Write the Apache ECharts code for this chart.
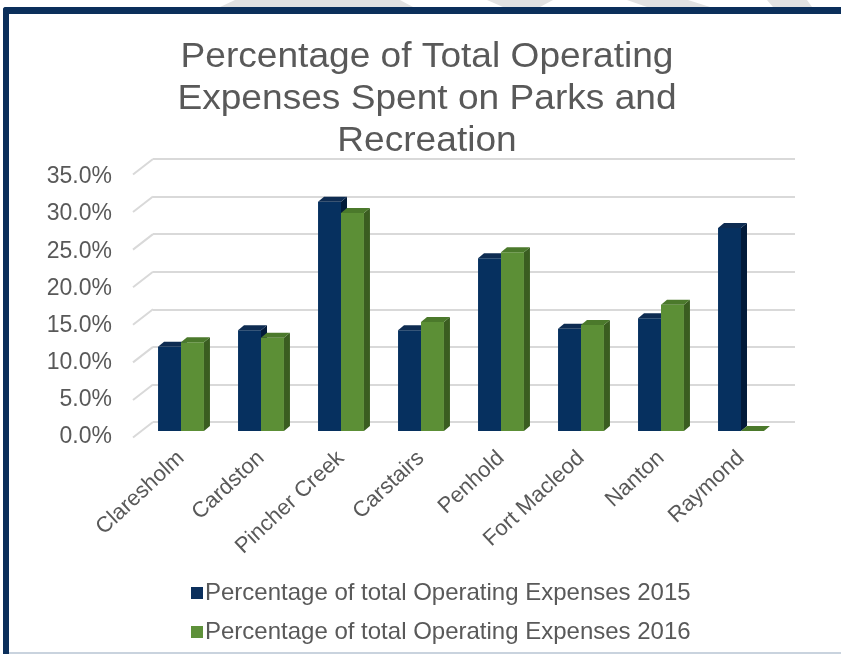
<!DOCTYPE html>
<html>
<head>
<meta charset="utf-8">
<script src="https://cdn.jsdelivr.net/npm/echarts@6/dist/echarts.min.js"></script>
<style>
  html, body { margin: 0; padding: 0; background: #ffffff; }
  #chart { width: 841px; height: 654px; }
</style>
</head>
<body>
<div id="chart"></div>
<script>
// Municipalities compared
const categories = ['Claresholm', 'Cardston', 'Pincher Creek', 'Carstairs', 'Penhold', 'Fort Macleod', 'Nanton', 'Raymond'];
// Share of total operating expenses spent on parks and recreation (%)
const pct2015 = [11.2, 13.4, 30.5, 13.4, 23.0, 13.6, 15.0, 27.0];
const pct2016 = [11.8, 12.4, 29.0, 14.5, 23.8, 14.1, 16.8, 0];
// Value axis ticks (%)
const yTicks = [0, 5, 10, 15, 20, 25, 30, 35];

const seriesNames = [
  'Percentage of total Operating Expenses 2015',
  'Percentage of total Operating Expenses 2016'
];
const titleText = 'Percentage of Total Operating\nExpenses Spent on Parks and\nRecreation';

const FONT = '"Liberation Sans", Arial, sans-serif';
const TEXT = '#595959';
const NAVY = { front: '#06305f', top: '#0e2c52', side: '#021b3a' };
const GREEN = { front: '#5c8f36', top: '#4b792b', side: '#3a5d20' };
const DEPTH_X = 6, DEPTH_Y = 5;   // oblique depth of each column
const WALL_DX = 20, WALL_DY = 15.5; // side wall projection

function barRenderer(side, c) {
  return function (params, api) {
    const cat = api.value(0);
    const v = api.value(1);
    const base = api.coord([cat, 0]);
    const top = api.coord([cat, v]);
    const band = api.size([1, 0])[0];
    const w = band * 0.287;
    const x0 = side < 0 ? base[0] - w : base[0];
    const x1 = x0 + w;
    const yt = top[1], yb = base[1];
    const children = [];
    if (yb - yt > 0.5) {
      children.push({
        type: 'rect',
        shape: { x: x0, y: yt, width: w, height: yb - yt },
        style: { fill: c.front }
      });
      children.push({
        type: 'polygon',
        shape: { points: [[x1, yt], [x1 + DEPTH_X, yt - DEPTH_Y], [x1 + DEPTH_X, yb - DEPTH_Y], [x1, yb]] },
        style: { fill: c.side }
      });
    }
    children.push({
      type: 'polygon',
      shape: { points: [[x0, yt], [x0 + DEPTH_X, yt - DEPTH_Y], [x1 + DEPTH_X, yt - DEPTH_Y], [x1, yt]] },
      style: { fill: c.top }
    });
    return { type: 'group', children: children };
  };
}

function wallRenderer(params, api) {
  const p = api.coord([0, api.value(0)]);
  return {
    type: 'line',
    shape: { x1: p[0], y1: p[1], x2: p[0] - WALL_DX, y2: p[1] + WALL_DY },
    style: { stroke: '#d9d9d9', lineWidth: 2 }
  };
}

const chart = echarts.init(document.getElementById('chart'), null, { renderer: 'canvas' });

chart.setOption({
  backgroundColor: '#ffffff',
  animation: false,
  textStyle: { fontFamily: FONT },
  legend: {
    orient: 'vertical',
    left: 186,
    top: 576,
    itemWidth: 12,
    itemHeight: 12,
    itemGap: 15,
    icon: 'rect',
    data: seriesNames,
    textStyle: { fontFamily: FONT, fontSize: 24, color: TEXT, padding: [0, 0, 0, -3] }
  },
  grid: [
    // back wall with gridlines
    { left: 153, right: 46, top: 159, bottom: 232 },
    // value labels along the side wall front edge
    { left: 132, right: 46, top: 177, bottom: 217 },
    // columns
    { left: 141, right: 60, top: 168, bottom: 223 }
  ],
  xAxis: [
    { gridIndex: 0, type: 'value', min: 0, max: 1, show: false },
    { gridIndex: 1, type: 'value', min: 0, max: 1, show: false },
    {
      gridIndex: 2, type: 'category', data: categories,
      axisLine: { show: false }, axisTick: { show: false },
      axisLabel: { interval: 0, rotate: 43, margin: 24, fontSize: 22, color: TEXT, fontFamily: FONT }
    }
  ],
  yAxis: [
    {
      gridIndex: 0, type: 'value', min: 0, max: 35, interval: 5,
      axisLine: { show: false }, axisTick: { show: false }, axisLabel: { show: false },
      splitLine: { show: true, lineStyle: { color: '#d9d9d9', width: 2 } }
    },
    {
      gridIndex: 1, type: 'value', min: 0, max: 35, interval: 5,
      axisLine: { show: false }, axisTick: { show: false }, splitLine: { show: false },
      axisLabel: { margin: 20, fontSize: 23, color: TEXT, fontFamily: FONT, formatter: v => v.toFixed(1) + '%' }
    },
    { gridIndex: 2, type: 'value', min: 0, max: 35, interval: 5, show: false }
  ],
  series: [
    {
      type: 'custom', name: 'wall', xAxisIndex: 0, yAxisIndex: 0,
      data: yTicks.map(v => [v]), renderItem: wallRenderer, silent: true, z: 1
    },
    {
      type: 'custom', name: seriesNames[0], xAxisIndex: 2, yAxisIndex: 2,
      itemStyle: { color: '#0b2f5c' },
      data: pct2015.map((v, i) => [i, v]), renderItem: barRenderer(-1, NAVY), z: 3
    },
    {
      type: 'custom', name: seriesNames[1], xAxisIndex: 2, yAxisIndex: 2,
      itemStyle: { color: '#5e913a' },
      data: pct2016.map((v, i) => [i, v]), renderItem: barRenderer(1, GREEN), z: 4
    }
  ],
  graphic: [
    // light grey shapes above the frame
    { type: 'polygon', shape: { points: [[235, 0], [400, 0], [413, 7], [220, 7]] }, style: { fill: '#e2e2e2' }, z: 0 },
    { type: 'polygon', shape: { points: [[487, 0], [553, 0], [540, 7], [503, 7]] }, style: { fill: '#e2e2e2' }, z: 0 },
    { type: 'polygon', shape: { points: [[627, 0], [688, 0], [710, 7], [647, 7]] }, style: { fill: '#e2e2e2' }, z: 0 },
    { type: 'polygon', shape: { points: [[767, 0], [807, 0], [812, 7], [773, 7]] }, style: { fill: '#e2e2e2' }, z: 0 },
    // frame
    { type: 'rect', shape: { x: 3, y: 7, width: 838, height: 7, r: [3, 0, 0, 0] }, style: { fill: '#0b2f5b' }, z: 10 },
    { type: 'rect', shape: { x: 3, y: 7, width: 6, height: 647, r: [3, 0, 0, 0] }, style: { fill: '#0b2f5b' }, z: 10 },
    { type: 'rect', shape: { x: 9, y: 652, width: 832, height: 2 }, style: { fill: '#c9d3de' }, z: 10 },
    // chart title, slightly widened lettering
    {
      type: 'text', x: 427, y: 36, scaleX: 1.06, originX: 0, z: 10,
      style: {
        text: titleText, x: 0, y: 0, align: 'center', verticalAlign: 'top',
        font: '35px "Liberation Sans", Arial, sans-serif', lineHeight: 42, fill: TEXT
      }
    }
  ]
});
</script>
</body>
</html>
